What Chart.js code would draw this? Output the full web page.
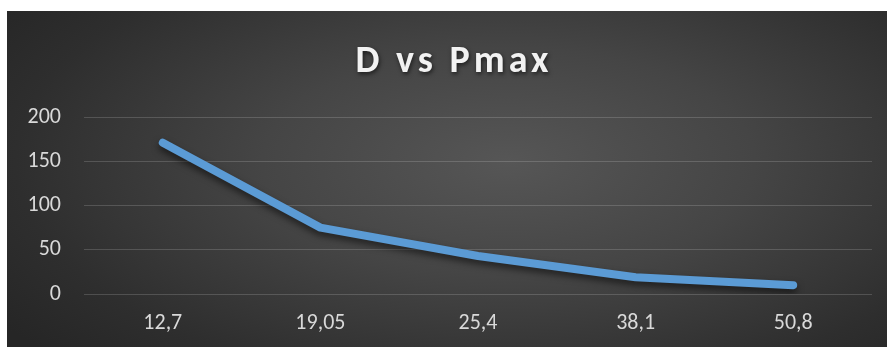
<!DOCTYPE html>
<html>
<head>
<meta charset="utf-8">
<script src="https://cdn.jsdelivr.net/npm/chart.js@4/dist/chart.umd.min.js"></script>
<style>
  html, body { margin: 0; padding: 0; background: #fff; }
  #wrap {
    position: absolute; left: 7px; top: 11px; width: 880px; height: 336px;
    background: radial-gradient(ellipse 70% 85% at 57% 45%, #565656 0%, #454545 40%, #2e2e2e 80%, #262626 100%);
  }
</style>
</head>
<body>
<div id="wrap"><canvas id="chart"></canvas></div>
<script>
  // --- data -------------------------------------------------------
  var titleText  = 'D vs Pmax';
  var categories = ['12,7', '19,05', '25,4', '38,1', '50,8'];
  var pmax       = [171, 75, 43, 19, 10];
  var yTicks     = [0, 50, 100, 150, 200];

  var FONT = "'Carlito', 'Open Sans', 'Noto Sans', sans-serif";

  /* title drawn by hand so we can letter-space and shadow it */
  var titlePlugin = {
    id: 'spacedTitle',
    afterDraw: function (chart) {
      var ctx = chart.ctx;
      ctx.save();
      ctx.font = 'bold 38px ' + FONT;
      ctx.letterSpacing = '4px';
      ctx.textAlign = 'center';
      ctx.textBaseline = 'middle';
      ctx.shadowColor = 'rgba(0,0,0,0.6)';
      ctx.shadowBlur = 4;
      ctx.shadowOffsetX = 1;
      ctx.shadowOffsetY = 2;
      ctx.fillStyle = '#f2f2f2';
      ctx.fillText(titleText, 447, 51);
      ctx.restore();
    }
  };

  /* soft shadow under the line */
  var shadowPlugin = {
    id: 'lineShadow',
    beforeDatasetsDraw: function (chart) {
      var ctx = chart.ctx;
      ctx.save();
      ctx.shadowColor = 'rgba(0,0,0,0.55)';
      ctx.shadowBlur = 7;
      ctx.shadowOffsetY = 4;
    },
    afterDatasetsDraw: function (chart) {
      chart.ctx.restore();
    }
  };

  new Chart(document.getElementById('chart'), {
    type: 'line',
    data: {
      labels: categories,
      datasets: [{
        data: pmax,
        borderColor: '#5b9bd5',
        borderWidth: 8,
        borderCapStyle: 'round',
        borderJoinStyle: 'round',
        pointRadius: 0,
        tension: 0,
        fill: false
      }]
    },
    options: {
      responsive: true,
      maintainAspectRatio: false,
      animation: false,
      layout: { padding: { top: 106, right: 15, bottom: 0, left: 0 } },
      plugins: {
        legend: { display: false },
        title: { display: false },
        tooltip: { enabled: false }
      },
      scales: {
        x: {
          offset: true,
          afterFit: function (scale) { scale.height = 53; },
          grid: { display: false, drawTicks: false },
          border: { display: false },
          ticks: { color: '#d9d9d9', padding: 16, font: { family: FONT, size: 22 } }
        },
        y: {
          min: 0,
          max: 200,
          afterBuildTicks: function (scale) {
            scale.ticks = yTicks.map(function (v) { return { value: v }; });
          },
          afterFit: function (scale) { scale.width = 77; },
          grid: { color: 'rgba(255,255,255,0.16)', lineWidth: 1, drawTicks: false },
          border: { display: false },
          ticks: { color: '#d9d9d9', padding: 23, font: { family: FONT, size: 22 } }
        }
      }
    },
    plugins: [shadowPlugin, titlePlugin]
  });
</script>
</body>
</html>
